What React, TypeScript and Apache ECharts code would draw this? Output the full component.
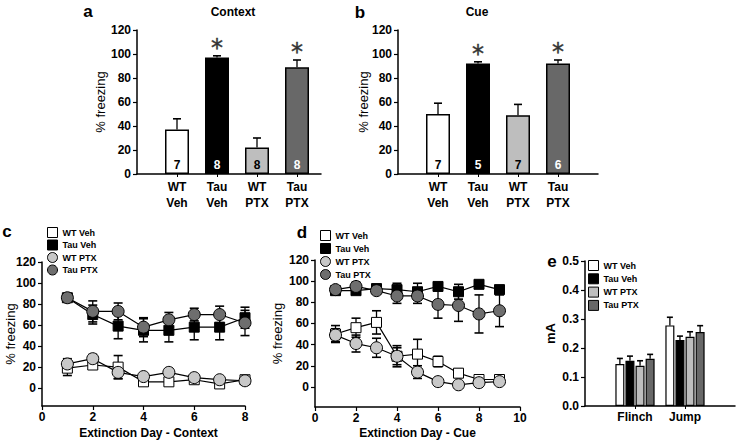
import React, { useEffect, useRef } from 'react';
import * as echarts from 'echarts';

// ---------- data ----------
const groups = ['WT Veh', 'Tau Veh', 'WT PTX', 'Tau PTX'];
const groupTickLabels = ['WT\nVeh', 'Tau\nVeh', 'WT\nPTX', 'Tau\nPTX'];

// a: Context
const contextMean = [37, 97, 22, 89];
const contextSem = [9, 1.5, 8, 6];
const contextN = [7, 8, 8, 8];
const contextSig = [0, 1, 0, 1];

// b: Cue
const cueMean = [50, 92, 49, 92];
const cueSem = [9, 1.5, 9, 3];
const cueN = [7, 5, 7, 6];
const cueSig = [0, 1, 0, 1];

// c: Extinction Day - Context
const daysContext = [1, 2, 3, 4, 5, 6, 7, 8];
const extCtxWTVeh = [19, 22, 20, 6, 6, 8, 4, 8];
const extCtxWTVehSem = [7, 3, 11, 2, 2, 2, 2, 2];
const extCtxTauVeh = [86, 70, 59, 55, 55, 58, 58, 67];
const extCtxTauVehSem = [3, 9, 12, 11, 11, 12, 12, 10];
const extCtxWTPTX = [23, 28, 15, 11, 15, 10, 8, 7];
const extCtxWTPTXSem = [5, 4, 6, 3, 3, 3, 3, 2];
const extCtxTauPTX = [86, 73, 73, 58, 65, 70, 70, 62];
const extCtxTauPTXSem = [3, 10, 8, 9, 7, 6, 8, 12];

// d: Extinction Day - Cue
const daysCue = [1, 2, 3, 4, 5, 6, 7, 8, 9];
const extCueWTVeh = [50, 56, 61, 29, 31, 24, 13, 7, 7];
const extCueWTVehSem = [8, 9, 11, 8, 14, 5, 4, 2, 2];
const extCueTauVeh = [91, 91, 93, 92, 90, 95, 90, 97, 92];
const extCueTauVehSem = [2, 3, 2, 6, 8, 3, 7, 2, 3];
const extCueWTPTX = [49, 41, 37, 29, 14, 5, 2, 4, 5];
const extCueWTPTXSem = [6, 8, 9, 10, 6, 2, 2, 2, 2];
const extCueTauPTX = [92, 95, 91, 86, 86, 78, 77, 69, 72];
const extCueTauPTXSem = [2, 4, 3, 7, 7, 13, 15, 18, 15];

// e: shock threshold (mA)
const shockCategories = ['Flinch', 'Jump'];
const shockWTVeh = [0.145, 0.278];
const shockWTVehSem = [0.019, 0.028];
const shockTauVeh = [0.156, 0.228];
const shockTauVehSem = [0.016, 0.013];
const shockWTPTX = [0.139, 0.239];
const shockWTPTXSem = [0.017, 0.017];
const shockTauPTX = [0.163, 0.255];
const shockTauPTXSem = [0.015, 0.022];

const freezingTicks = [0, 20, 40, 60, 80, 100, 120];

// ---------- styles ----------
const FONT = '"Liberation Sans", Arial, Helvetica, sans-serif';
const barFill = ['#ffffff', '#000000', '#bebebe', '#686868'];
const markFill = ['#ffffff', '#000000', '#c8c8c8', '#6e6e6e'];
const markShape = ['rect', 'rect', 'circle', 'circle'];
const nColor = ['#000000', '#ffffff', '#000000', '#ffffff'];
const AXIS_W = 1.5;

const axisLine = { show: true, onZero: false, lineStyle: { color: '#000', width: AXIS_W } };
const labelStyle = (size = 12) => ({
  color: '#000',
  fontFamily: FONT,
  fontWeight: 'bold' as const,
  fontSize: size,
});

function errorSeries(
  axisIndex: number,
  data: number[][],
  opts: { both: boolean; cap: number; offset?: number; z?: number }
) {
  const offset = opts.offset || 0;
  return {
    type: 'custom',
    xAxisIndex: axisIndex,
    yAxisIndex: axisIndex,
    silent: true,
    z: opts.z ?? 3,
    itemStyle: { color: '#000' },
    encode: { x: 0, y: 1 },
    data,
    renderItem: (params: any, api: any) => {
      const x = api.value(0);
      const y = api.value(1);
      const e = api.value(2);
      const s = api.value(3);
      const p0 = api.coord([x, y]);
      const pt = api.coord([x, y + e]);
      const pb = api.coord([x, opts.both ? y - e : y]);
      const cx = p0[0] + offset;
      const stroke = { stroke: '#000', lineWidth: 1.3 };
      const children: any[] = [
        { type: 'line', shape: { x1: cx, y1: pt[1], x2: cx, y2: pb[1] }, style: stroke },
        { type: 'line', shape: { x1: cx - opts.cap / 2, y1: pt[1], x2: cx + opts.cap / 2, y2: pt[1] }, style: { stroke: '#000', lineWidth: 1.6 } },
      ];
      if (opts.both) {
        children.push({ type: 'line', shape: { x1: cx - opts.cap / 2, y1: pb[1], x2: cx + opts.cap / 2, y2: pb[1] }, style: { stroke: '#000', lineWidth: 1.6 } });
      }
      if (s) {
        children.push({
          type: 'text',
          x: cx,
          y: pt[1] - 8,
          style: {
            text: '*',
            fill: '#333333',
            stroke: '#333333',
            lineWidth: 0.4,
            font: '24px "DejaVu Sans", sans-serif',
            align: 'center',
            verticalAlign: 'middle',
          },
        });
      }
      return { type: 'group', children };
    },
  };
}

function groupBarPanel(axisIndex: number, mean: number[], sem: number[], n: number[], sig: number[]) {
  return [
    {
      type: 'bar',
      xAxisIndex: axisIndex,
      yAxisIndex: axisIndex,
      barWidth: 24,
      z: 2,
      silent: true,
      data: mean.map((v, i) => ({
        value: [i + 1, v],
        itemStyle: { color: barFill[i], borderColor: '#000', borderWidth: 1.5 },
        label: {
          show: true,
          position: 'insideBottom',
          distance: 3,
          formatter: String(n[i]),
          color: nColor[i],
          fontFamily: FONT,
          fontWeight: 'bold',
          fontSize: 12,
        },
      })),
    },
    errorSeries(axisIndex, mean.map((v, i) => [i + 1, v, sem[i], sig[i]]), { both: false, cap: 8, z: 4 }),
  ];
}

function linePanel(
  axisIndex: number,
  prefix: string,
  days: number[],
  series: number[][],
  sems: number[][],
  sizes: number[]
) {
  const errs = series.map((vals, gi) =>
    errorSeries(axisIndex, vals.map((v, i) => [days[i], v, sems[gi][i]]), { both: true, cap: 9, z: 2 })
  );
  const lines = series.map((vals, gi) => ({
    type: 'line',
    name: prefix + groups[gi],
    xAxisIndex: axisIndex,
    yAxisIndex: axisIndex,
    z: 3,
    silent: true,
    symbol: markShape[gi],
    symbolSize: markShape[gi] === 'rect' ? sizes[0] : sizes[1],
    showAllSymbol: true,
    itemStyle: { color: markFill[gi], borderColor: '#000', borderWidth: 1 },
    lineStyle: { color: '#000', width: 1.2 },
    data: vals.map((v, i) => [days[i], v]),
  }));
  return [...errs, ...lines];
}

function legendCfg(prefix: string, left: number, top: number, shapes: string[], fills: string[], gap: number) {
  return {
    orient: 'vertical',
    left,
    top,
    itemWidth: 10,
    itemHeight: 10,
    itemGap: gap,
    selectedMode: false,
    padding: 0,
    data: groups.map((g, i) => ({
      name: prefix + g,
      icon: shapes[i],
      itemStyle: { color: fills[i], borderColor: '#000', borderWidth: 1 },
    })),
    formatter: (name: string) => name.slice(prefix.length),
    textStyle: { fontSize: 9, fontWeight: 'bold', fontFamily: FONT, color: '#000' },
  };
}

function freezingYAxis(gridIndex: number, min: number, nameGap: number) {
  return {
    type: 'value',
    gridIndex,
    min,
    max: 120,
    axisLine,
    axisTick: { show: true, length: 4, customValues: freezingTicks, lineStyle: { color: '#000', width: 1.2 } },
    axisLabel: { ...labelStyle(12), margin: 6, customValues: freezingTicks },
    splitLine: { show: false },
    name: '% freezing',
    nameLocation: 'middle',
    nameGap,
    nameMoveOverlap: false,
    nameTextStyle: { color: '#000', fontFamily: FONT, fontSize: 13 },
  };
}

function buildOption() {
  const groupPositions = groups.map((_, i) => i + 1);
  const shockPositions = shockCategories.map((_, i) => i + 1);
  const barW = 9;
  const gapFrac = 0.12;
  const shockMeans = [shockWTVeh, shockTauVeh, shockWTPTX, shockTauPTX];
  const shockSems = [shockWTVehSem, shockTauVehSem, shockWTPTXSem, shockTauPTXSem];

  const shockBars = shockMeans.map((vals, gi) => ({
    type: 'bar',
    name: 'e-' + groups[gi],
    xAxisIndex: 4,
    yAxisIndex: 4,
    barWidth: barW,
    barGap: gapFrac * 100 + '%',
    z: 2,
    silent: true,
    itemStyle: { color: barFill[gi], borderColor: '#000', borderWidth: 1.2 },
    data: vals.map((v, i) => [i + 1, v]),
  }));
  const shockErrs = shockMeans.map((vals, gi) =>
    errorSeries(4, vals.map((v, i) => [i + 1, v, shockSems[gi][i]]), {
      both: false,
      cap: 6,
      offset: (gi - 1.5) * barW * (1 + gapFrac),
      z: 4,
    })
  );

  const textEl = (text: string, x: number, y: number, font: string) => ({
    type: 'text',
    x,
    y,
    style: {
      text,
      font,
      fill: '#000',
      align: 'center',
      verticalAlign: 'middle',
    },
  });

  return {
    animation: false,
    backgroundColor: '#ffffff',
    textStyle: { fontFamily: FONT },
    grid: [
      { left: 137, top: 30, width: 184, height: 144, outerBoundsMode: 'none' },
      { left: 398, top: 30, width: 200, height: 144, outerBoundsMode: 'none' },
      { left: 42, top: 262, width: 203, height: 144, outerBoundsMode: 'none' },
      { left: 315, top: 260, width: 205, height: 147, outerBoundsMode: 'none' },
      { left: 585, top: 261, width: 150, height: 145, outerBoundsMode: 'none' },
    ],
    xAxis: [
      ...[0, 1].map((gi) => ({
        type: 'value',
        gridIndex: gi,
        min: 0,
        max: gi === 0 ? 4.6 : 5,
        axisLine,
        axisTick: { show: true, length: 3, customValues: groupPositions, lineStyle: { color: '#000' } },
        axisLabel: {
          ...labelStyle(12),
          lineHeight: 16,
          margin: 5,
          customValues: groupPositions,
          formatter: (v: number) => groupTickLabels[Math.round(v) - 1] || '',
        },
        splitLine: { show: false },
      })),
      {
        type: 'value',
        gridIndex: 2,
        min: 0,
        max: 8,
        interval: 2,
        axisLine,
        axisTick: { show: true, length: 4, lineStyle: { color: '#000', width: 1.2 } },
        axisLabel: { ...labelStyle(12), margin: 5 },
        splitLine: { show: false },
        name: 'Extinction Day - Context',
        nameLocation: 'middle',
        nameGap: 21,
        nameMoveOverlap: false,
        nameTextStyle: { ...labelStyle(12), padding: [0, 0, 0, 10] },
      },
      {
        type: 'value',
        gridIndex: 3,
        min: 0,
        max: 10,
        interval: 2,
        axisLine,
        axisTick: { show: true, length: 4, lineStyle: { color: '#000', width: 1.2 } },
        axisLabel: { ...labelStyle(12), margin: 5 },
        splitLine: { show: false },
        name: 'Extinction Day - Cue',
        nameLocation: 'middle',
        nameGap: 20,
        nameMoveOverlap: false,
        nameTextStyle: labelStyle(12),
      },
      {
        type: 'value',
        gridIndex: 4,
        min: 0,
        max: 3,
        axisLine,
        axisTick: { show: true, length: 3, customValues: shockPositions, lineStyle: { color: '#000' } },
        axisLabel: {
          ...labelStyle(12),
          margin: 5,
          customValues: shockPositions,
          formatter: (v: number) => shockCategories[Math.round(v) - 1] || '',
        },
        splitLine: { show: false },
      },
    ],
    yAxis: [
      freezingYAxis(0, 0, 30),
      freezingYAxis(1, 0, 28),
      freezingYAxis(2, -17, 25),
      freezingYAxis(3, -19, 31),
      {
        type: 'value',
        gridIndex: 4,
        min: 0,
        max: 0.5,
        interval: 0.1,
        axisLine,
        axisTick: { show: true, length: 4, lineStyle: { color: '#000', width: 1.2 } },
        axisLabel: { ...labelStyle(12), margin: 6, formatter: (v: number) => v.toFixed(1) },
        splitLine: { show: false },
        name: 'mA',
        nameLocation: 'middle',
        nameGap: 28,
        nameMoveOverlap: false,
        nameTextStyle: labelStyle(13),
      },
    ],
    legend: [
      legendCfg('c-', 47, 227, markShape, markFill, 1.5),
      legendCfg('d-', 320, 230, markShape, markFill, 2),
      legendCfg('e-', 588, 260, ['rect', 'rect', 'rect', 'rect'], barFill, 2.3),
    ],
    graphic: [
      textEl('a', 88, 11, 'bold 17px "Liberation Sans", Arial, sans-serif'),
      textEl('b', 360, 12, 'bold 17px "Liberation Sans", Arial, sans-serif'),
      textEl('c', 7, 231, 'bold 17px "Liberation Sans", Arial, sans-serif'),
      textEl('d', 302, 232, 'bold 17px "Liberation Sans", Arial, sans-serif'),
      textEl('e', 552, 261, 'bold 17px "Liberation Sans", Arial, sans-serif'),
      textEl('Context', 233, 12, 'bold 12px "Liberation Sans", Arial, sans-serif'),
      textEl('Cue', 477, 12, 'bold 12px "Liberation Sans", Arial, sans-serif'),
    ],
    series: [
      ...groupBarPanel(0, contextMean, contextSem, contextN, contextSig),
      ...groupBarPanel(1, cueMean, cueSem, cueN, cueSig),
      ...linePanel(
        2,
        'c-',
        daysContext,
        [extCtxWTVeh, extCtxTauVeh, extCtxWTPTX, extCtxTauPTX],
        [extCtxWTVehSem, extCtxTauVehSem, extCtxWTPTXSem, extCtxTauPTXSem],
        [10, 12]
      ),
      ...linePanel(
        3,
        'd-',
        daysCue,
        [extCueWTVeh, extCueTauVeh, extCueWTPTX, extCueTauPTX],
        [extCueWTVehSem, extCueTauVehSem, extCueWTPTXSem, extCueTauPTXSem],
        [10, 12]
      ),
      ...shockBars,
      ...shockErrs,
    ],
  };
}

export default function App() {
  const ref = useRef<HTMLDivElement>(null);
  useEffect(() => {
    document.body.style.margin = '0';
    const chart = echarts.init(ref.current as HTMLDivElement, null, { renderer: 'svg' });
    chart.setOption(buildOption() as any);
    return () => chart.dispose();
  }, []);
  return <div ref={ref} style={{ width: 736, height: 443 }} />;
}
